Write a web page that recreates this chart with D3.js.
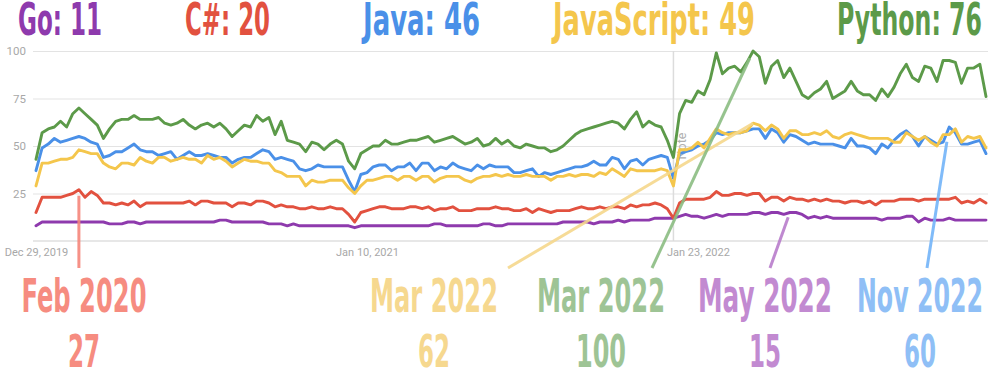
<!DOCTYPE html>
<html>
<head>
<meta charset="utf-8">
<script src="https://cdn.jsdelivr.net/npm/d3@7"></script>
<style>
  html, body { margin: 0; padding: 0; background: #fff; }
  svg { display: block; }
</style>
</head>
<body>
<svg id="chart" width="988" height="369"></svg>
<script>
// ---------- DATA ----------
const seriesNames = ["Go", "C#", "Java", "JavaScript", "Python"];
const latestValues = [11, 20, 46, 49, 76];
const firstWeek = "2019-12-29";
const weekCount = 156;
const xTickLabels = ["2019-12-29", "2021-01-10", "2022-01-23"];
const yTickValues = [25, 50, 75, 100];
const noteWeekIndex = 104;

const goValues = [8,10,10,10,10,10,10,10,10,10,10,10,9,9,9,10,10,9,10,10,
  10,10,10,10,10,10,10,10,10,10, 11,11,10,10,10,10,10,10,9,9, 9,8,9,8,8,8,8,8,8,8,
  8,8,7,8,8,8,8,8,8,8, 8,8,8,8,8,9,9,8,8,8, 8,8,8,9,9,8,8,9,9,9, 9,9,9,9,9,9,10,10,10,10,
  10,9,10,10,10,11,10,11,11,11, 11,12,12,12,
  12,13,14,13,13,12,13,14,13,14, 14,14,14,15,15,14,15,15,14,15, 15,14,12,13,12,13,12,12,12,12,
  12,12,12,12,11,12,12,12,13,13, 10,12,11,11,11,12,11,11,11,11, 11,11];

const csharpValues = [15,23,23,23,23,24,25,27,23,26,24,20,20,19,20,19,21,18,20,20,
  20,20,20,20,20,21,19,21,21,20, 20,20,18,20,20,19,21,21,20,18, 19,18,18,17,17,18,17,17,18,17,
  17,14,10,15,16,17,18,18,17,17, 17,18,18,17,18,16,17,17,18,16, 16,16,17,17,17,18,17,17,16,16,
  17,15,17,16,15,16,16,16,17,18, 17,17,18,17,18,18,17,19,18,19, 19,20,19,17,
  12,20,22,22,22,22,23,26,24,24, 25,25,24,25,25,21,23,23,21,23, 22,22,21,22,21,22,21,21,20,21,
  21,20,21,19,21,21,21,22,22,22, 21,22,22,22,22,22,23,20,21,20, 22,20];

const javaValues = [37,49,51,54,52,53,54,55,54,52,51,44,45,47,47,49,51,48,47,47,
  45,46,47,43,45,47,45,45,46,45, 44,44,41,43,44,44,46,48,47,43, 44,43,42,38,37,38,40,39,39,39,
  39,32,26,35,36,39,40,40,37,39, 39,41,37,41,41,37,39,38,41,39, 38,37,40,38,40,39,39,39,36,36,
  37,38,34,36,35,36,37,38,39,39, 40,42,40,40,44,43,38,42,43,40, 43,44,45,44,
  33,46,47,48,50,51,53,57,56,57, 57,57,58,59,59,54,59,57,52,56, 55,53,51,52,51,51,51,50,49,54,
  50,50,49,46,51,49,53,56,58,55, 50,55,53,51,52,60,57,51,51,52, 53,46];

const javascriptValues = [29,41,41,42,43,43,44,48,47,46,46,41,39,38,41,41,40,44,42,41,
  44,44,42,43,44,43,43,41,45,43, 44,42,39,41,43,42,42,41,41,37, 36,34,34,34,29,32,31,31,32,32,
  32,28,25,29,32,32,33,34,34,32, 34,34,32,34,34,31,33,34,34,34, 32,31,33,34,34,35,34,35,34,34,
  35,34,34,34,32,34,34,35,34,35, 35,34,36,35,38,36,34,38,37,37, 37,37,38,37,
  29,48,48,49,52,49,54,59,57,56, 57,57,58,62,61,58,61,59,54,58, 58,56,56,57,56,58,55,54,56,57,
  56,55,54,54,54,54,52,52,57,55, 53,55,52,50,56,56,59,52,55,54, 55,49];

const pythonValues = [43,57,59,60,63,60,67,70,67,64,61,54,59,63,64,64,66,64,64,64,
  65,62,61,62,64,61,59,61,62,60, 62,59,55,58,61,60,66,63,65,56, 63,53,52,51,47,52,51,48,51,53,
  51,42,38,46,48,50,50,53,51,51, 52,53,53,54,55,52,53,54,55,53, 51,52,54,50,51,54,51,53,50,49,
  51,50,49,49,47,48,50,53,56,58, 59,60,61,62,63,62,59,64,68,60, 63,61,60,53,
  44,67,74,73,79,77,85,99,88,91, 92,89,94,100,97,83,92,95,86,91, 84,77,75,78,80,84,75,77,79,84,
  79,77,77,74,80,76,81,88,93,86, 84,92,91,84,95,95,94,83,91,91, 93,76];

// Callouts: series, week index, label
const calloutSeries = ["C#", "JavaScript", "Python", "Go", "Java"];
const calloutWeeks = [7, 117, 117, 123, 149];
const calloutLabels = ["Feb 2020", "Mar 2022", "Mar 2022", "May 2022", "Nov 2022"];

// ---------- STYLE / LAYOUT ----------
const lineColors = {"Go": "#8e3aad", "C#": "#e2513f", "Java": "#4a90e8", "JavaScript": "#f4c64c", "Python": "#5c9a49"};
const calloutColors = {"Go": "#c28ad1", "C#": "#f68c80", "Java": "#8fbff6", "JavaScript": "#f6d88f", "Python": "#9ec495"};
const calloutLineColors = {"Go": "#b87ccb", "C#": "#f5857a", "Java": "#72b4f8", "JavaScript": "#f5d78c", "Python": "#8bbd82"};
const headerLayout = [ {x: 18, w: 84}, {x: 185, w: 85}, {x: 363, w: 117}, {x: 553, w: 202}, {x: 837, w: 145} ];
const calloutLayout = [
  {cx: 84,  w: 125, nw: 32, lx: null, gap: 6},
  {cx: 434, w: 128, nw: 32, lx: 508, gap: 0},
  {cx: 601, w: 128, nw: 50, lx: 652, gap: 8},
  {cx: 765, w: 134, nw: 32, lx: 770, gap: 5},
  {cx: 920, w: 126, nw: 32, lx: 927, gap: 15}
];
const titleFont = "'DejaVu Sans Condensed', 'DejaVu Sans', sans-serif";

const valuesByName = {"Go": goValues, "C#": csharpValues, "Java": javaValues, "JavaScript": javascriptValues, "Python": pythonValues};

const svg = d3.select("#chart");
const parse = d3.timeParse("%Y-%m-%d");
const start = parse(firstWeek);
const weeks = d3.range(weekCount).map(i => d3.timeDay.offset(start, 7 * i));

const x = d3.scaleTime().domain([weeks[0], weeks[weekCount - 1]]).range([36, 986]);
const y = d3.scaleLinear().domain([0, 100]).range([241, 51]);

// gridlines + y labels
const yAxis = d3.axisLeft(y).tickValues(yTickValues).tickSize(-955).tickPadding(7);
const gy = svg.append("g").attr("transform", "translate(33,0)").call(yAxis);
gy.select(".domain").remove();
gy.selectAll(".tick line").attr("stroke", "#e3e3e3").attr("stroke-width", 1).attr("x1", 0).attr("x2", 955);
gy.selectAll(".tick text").attr("fill", "#a8a8a8").attr("font-family", "Roboto, sans-serif").attr("font-size", 11.5);

// baseline
svg.append("line").attr("x1", 33).attr("x2", 988).attr("y1", y(0)).attr("y2", y(0))
  .attr("stroke", "#cfcfcf").attr("stroke-width", 1);

// x axis labels
const xAxis = d3.axisBottom(x).tickValues(xTickLabels.map(parse)).tickFormat(d3.timeFormat("%b %-d, %Y")).tickSize(0).tickPadding(7);
const gx = svg.append("g").attr("transform", `translate(0,${y(0)})`).call(xAxis);
gx.select(".domain").remove();
gx.selectAll(".tick text").attr("fill", "#a8a8a8").attr("font-family", "Roboto, sans-serif").attr("font-size", 11);

// note line
const nx = x(weeks[noteWeekIndex]);
svg.append("line").attr("x1", nx).attr("x2", nx).attr("y1", y(100)).attr("y2", y(0))
  .attr("stroke", "#dcdcdc").attr("stroke-width", 1.5);
svg.append("text").attr("transform", `translate(${nx + 13},${y(50)}) rotate(-90)`)
  .attr("text-anchor", "middle").attr("fill", "#b0b0b0").attr("font-family", "Roboto, sans-serif")
  .attr("font-size", 12.5).text("Note");

// lines
const line = d3.line().x((d, i) => x(weeks[i])).y(d => y(d)).curve(d3.curveLinear);
seriesNames.forEach(name => {
  svg.append("path").datum(valuesByName[name]).attr("d", line)
    .attr("fill", "none").attr("stroke", lineColors[name]).attr("stroke-width", 2.9)
    .attr("stroke-linejoin", "round").attr("stroke-linecap", "round");
});

// header legend
seriesNames.forEach((name, i) => {
  svg.append("text").attr("x", headerLayout[i].x).attr("y", 35)
    .attr("font-family", titleFont).attr("font-weight", "bold").attr("font-size", 45)
    .attr("textLength", headerLayout[i].w).attr("lengthAdjust", "spacingAndGlyphs")
    .attr("fill", lineColors[name]).text(`${name}: ${latestValues[i]}`);
});

// callouts
calloutSeries.forEach((name, i) => {
  const L = calloutLayout[i];
  const wk = calloutWeeks[i];
  const v = valuesByName[name][wk];
  const px = x(weeks[wk]), py = y(v);
  const bx = L.lx === null ? px : L.lx, by = 268;
  const dx = px - bx, dy = py - by, len = Math.hypot(dx, dy);
  const ex = px - dx / len * L.gap, ey = py - dy / len * L.gap;
  svg.append("line").attr("x1", bx).attr("y1", by).attr("x2", ex).attr("y2", ey)
    .attr("stroke", calloutLineColors[name]).attr("stroke-width", 3).attr("stroke-opacity", 0.9);
  svg.append("text").attr("x", L.cx).attr("y", 312).attr("text-anchor", "middle")
    .attr("font-family", titleFont).attr("font-weight", "bold").attr("font-size", 46)
    .attr("textLength", L.w).attr("lengthAdjust", "spacingAndGlyphs")
    .attr("fill", calloutColors[name]).text(calloutLabels[i]);
  svg.append("text").attr("x", L.cx).attr("y", 367).attr("text-anchor", "middle")
    .attr("font-family", titleFont).attr("font-weight", "bold").attr("font-size", 45)
    .attr("textLength", L.nw).attr("lengthAdjust", "spacingAndGlyphs")
    .attr("fill", calloutColors[name]).text(String(v));
});
</script>
</body>
</html>
